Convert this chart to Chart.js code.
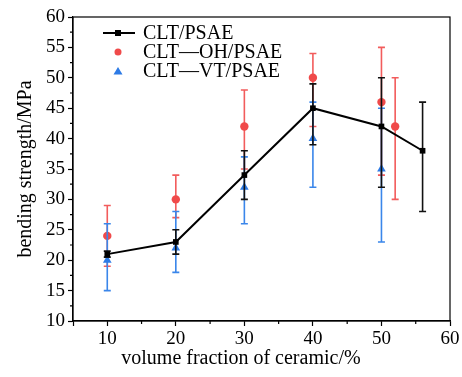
<!DOCTYPE html>
<html>
<head>
<meta charset="utf-8">
<script src="https://cdn.jsdelivr.net/npm/chart.js@4/dist/chart.umd.min.js"></script>
<style>
  html, body { margin: 0; padding: 0; background: #fff; }
  #wrap { width: 462px; height: 377px; }
</style>
</head>
<body>
<div id="wrap"><canvas id="chart" width="462" height="377"></canvas></div>
<script>
// data
const seriesNames = ['CLT/PSAE', 'CLT\u2014OH/PSAE', 'CLT\u2014VT/PSAE'];
const xTitle = 'volume fraction of ceramic/%';
const yTitle = 'bending strength/MPa';

const cltX = [10, 20, 30, 40, 50, 56];
const cltY = [21, 23, 34, 45, 42, 38];
const cltLo = [20.5, 21, 30, 39, 32, 28];
const cltHi = [21.5, 25, 38, 49, 50, 46];

const ohX = [10, 20, 30, 40, 50, 52];
const ohY = [24, 30, 42, 50, 46, 42];
const ohLo = [19, 27, 35, 42, 34, 30];
const ohHi = [29, 34, 48, 54, 55, 50];

const vtX = [10, 20, 30, 40, 50];
const vtY = [20, 22, 32, 40, 35];
const vtLo = [15, 18, 26, 32, 23];
const vtHi = [26, 28, 37, 46, 45];

const RED = '#f04a4a';
const BLUE = '#2d7be6';
const FONT = '"Liberation Serif", "DejaVu Serif", serif';

function points(xs, ys) {
    return xs.map((x, i) => ({ x: x, y: ys[i] }));
}

// error bars drawn under each dataset's markers
const errorBars = {
    id: 'errorBars',
    beforeDatasetDraw(chart, args) {
        const ds = chart.data.datasets[args.index];
        if (!ds.errLo) return;
        const ctx = chart.ctx;
        const xs = chart.scales.x, ys = chart.scales.y;
        ctx.save();
        ctx.strokeStyle = ds.errColor;
        ctx.lineWidth = 1.6;
        ds.data.forEach((p, i) => {
            const px = xs.getPixelForValue(p.x);
            const top = ys.getPixelForValue(ds.errHi[i]);
            const bot = ys.getPixelForValue(ds.errLo[i]);
            ctx.beginPath();
            ctx.moveTo(px, top); ctx.lineTo(px, bot);
            ctx.moveTo(px - 3.5, top); ctx.lineTo(px + 3.5, top);
            ctx.moveTo(px - 3.5, bot); ctx.lineTo(px + 3.5, bot);
            ctx.stroke();
        });
        ctx.restore();
    }
};

// box around the plot, short minor ticks, x title and legend
const frame = {
    id: 'frame',
    afterDraw(chart) {
        const ctx = chart.ctx;
        const a = chart.chartArea;
        const xs = chart.scales.x, ys = chart.scales.y;
        ctx.save();
        ctx.strokeStyle = '#000';
        ctx.lineWidth = 1.2;
        ctx.strokeRect(a.left, a.top, a.right - a.left, a.bottom - a.top);
        ctx.beginPath();
        for (let v = 15; v < 60; v += 10) {
            const px = xs.getPixelForValue(v);
            ctx.moveTo(px, a.bottom); ctx.lineTo(px, a.bottom + 3);
        }
        for (let v = 12.5; v < 60; v += 5) {
            const py = ys.getPixelForValue(v);
            ctx.moveTo(a.left, py); ctx.lineTo(a.left - 3, py);
        }
        ctx.stroke();

        // x axis title sits a bit left of centre in the original
        ctx.fillStyle = '#000';
        ctx.font = '20px ' + FONT;
        ctx.textAlign = 'center';
        ctx.textBaseline = 'middle';
        ctx.fillText(xTitle, xs.getPixelForValue(29.5), a.bottom + 38);

        // legend inside the plot
        const lx = a.left + 45, ly = a.top + 16, gap = 19;
        ctx.textAlign = 'left';
        ctx.lineWidth = 2;
        ctx.beginPath();
        ctx.moveTo(lx - 15, ly); ctx.lineTo(lx + 17, ly);
        ctx.stroke();
        ctx.fillRect(lx - 3, ly - 3, 6, 6);
        ctx.fillText(seriesNames[0], lx + 25, ly + 1);

        ctx.fillStyle = RED;
        ctx.beginPath();
        ctx.arc(lx, ly + gap, 3.5, 0, Math.PI * 2);
        ctx.fill();
        ctx.fillStyle = '#000';
        ctx.fillText(seriesNames[1], lx + 25, ly + gap + 1);

        ctx.fillStyle = BLUE;
        ctx.beginPath();
        ctx.moveTo(lx, ly + 2 * gap - 4);
        ctx.lineTo(lx + 4.5, ly + 2 * gap + 3.5);
        ctx.lineTo(lx - 4.5, ly + 2 * gap + 3.5);
        ctx.closePath();
        ctx.fill();
        ctx.fillStyle = '#000';
        ctx.fillText(seriesNames[2], lx + 25, ly + 2 * gap + 1);
        ctx.restore();
    }
};

const ctx = document.getElementById('chart').getContext('2d');
new Chart(ctx, {
    type: 'scatter',
    data: {
        datasets: [
            {
                label: seriesNames[0],
                data: points(cltX, cltY),
                showLine: true,
                borderColor: '#000',
                borderWidth: 2,
                backgroundColor: '#000',
                pointStyle: 'rect',
                pointRadius: 4,
                pointBorderWidth: 0,
                errLo: cltLo, errHi: cltHi, errColor: '#111',
                order: 0
            },
            {
                label: seriesNames[1],
                data: points(ohX, ohY),
                borderColor: RED,
                backgroundColor: RED,
                pointStyle: 'circle',
                pointRadius: 4.2,
                pointBorderWidth: 0,
                errLo: ohLo, errHi: ohHi, errColor: '#f25c5c',
                order: 2
            },
            {
                label: seriesNames[2],
                data: points(vtX, vtY),
                borderColor: BLUE,
                backgroundColor: BLUE,
                pointStyle: 'triangle',
                pointRadius: 5,
                pointBorderWidth: 0,
                errLo: vtLo, errHi: vtHi, errColor: '#3a86ea',
                order: 1
            }
        ]
    },
    options: {
        responsive: false,
        animation: false,
        layout: { padding: { left: 14, right: 12, top: 17, bottom: 0 } },
        plugins: {
            legend: { display: false },
            tooltip: { enabled: false }
        },
        scales: {
            x: {
                type: 'linear',
                min: 5, max: 60,
                grid: { drawOnChartArea: false, tickLength: 5, tickColor: '#000', tickWidth: 1.2 },
                border: { color: '#000', width: 1.2 },
                ticks: {
                    stepSize: 10,
                    autoSkip: false,
                    color: '#000',
                    font: { family: FONT, size: 19 },
                    padding: 2,
                    callback: v => (v % 10 === 0 ? v : '')
                },
                afterFit: s => { s.height = 56; }
            },
            y: {
                type: 'linear',
                min: 10, max: 60,
                grid: { drawOnChartArea: false, tickLength: 5, tickColor: '#000', tickWidth: 1.2 },
                border: { color: '#000', width: 1.2 },
                ticks: {
                    stepSize: 5,
                    autoSkip: false,
                    color: '#000',
                    font: { family: FONT, size: 19 },
                    padding: 3
                },
                title: {
                    display: true,
                    text: yTitle,
                    color: '#000',
                    font: { family: FONT, size: 20 },
                    padding: { top: 0, bottom: 4 }
                },
                afterFit: s => { s.width = 59; }
            }
        }
    },
    plugins: [errorBars, frame]
});
</script>
</body>
</html>
